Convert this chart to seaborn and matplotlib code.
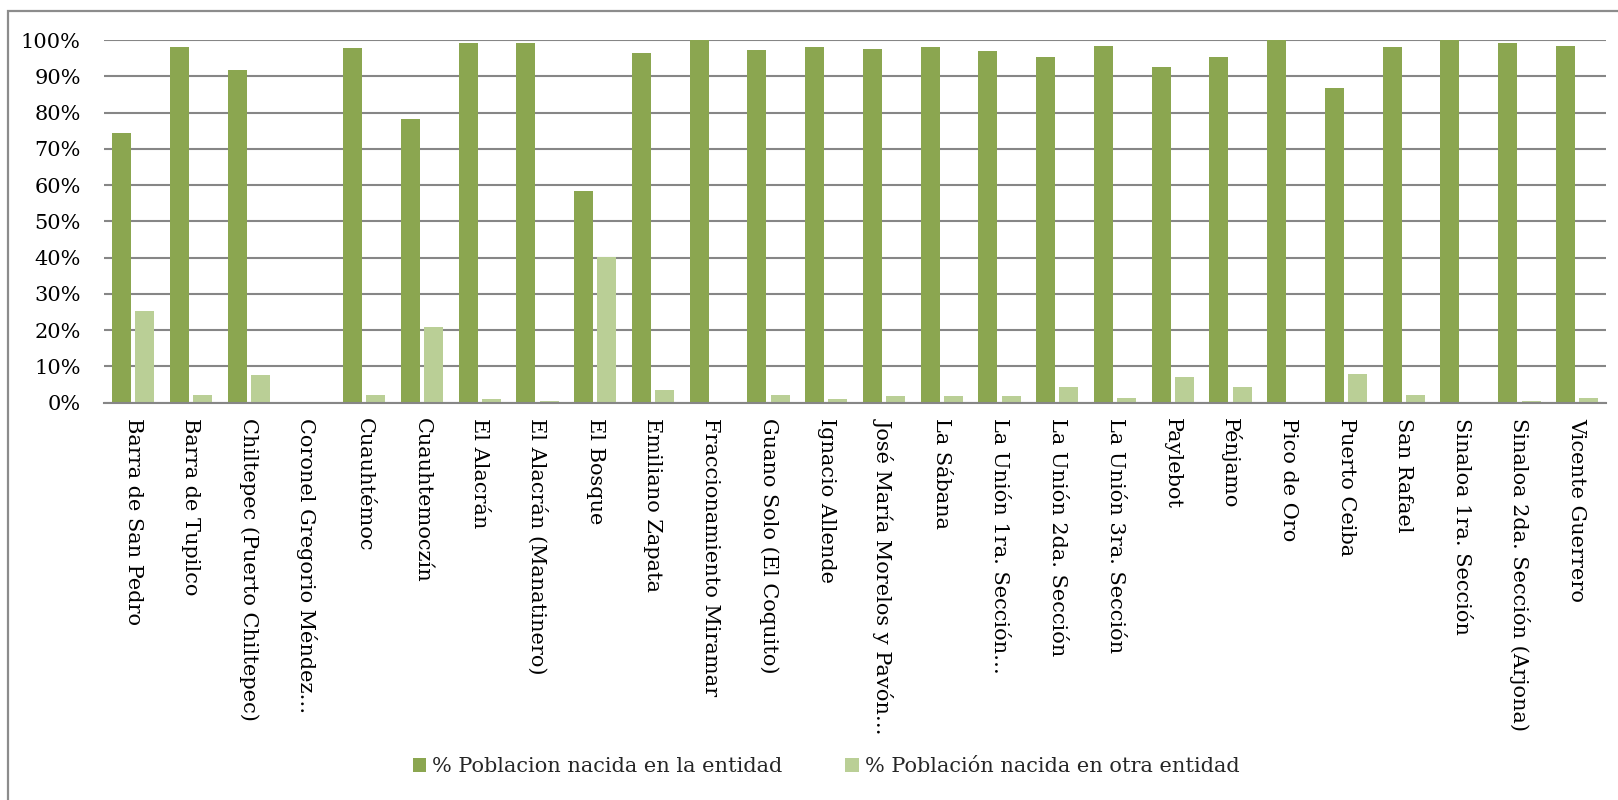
import matplotlib
matplotlib.use("Agg")
import matplotlib.pyplot as plt
import seaborn as sns
import pandas as pd
from matplotlib.patches import Rectangle
from matplotlib.ticker import FuncFormatter

categories = [
    "Barra de San Pedro", "Barra de Tupilco", "Chiltepec (Puerto Chiltepec)",
    "Coronel Gregorio Méndez…", "Cuauhtémoc", "Cuauhtemoczín", "El Alacrán",
    "El Alacrán (Manatinero)", "El Bosque", "Emiliano Zapata",
    "Fraccionamiento Miramar", "Guano Solo (El Coquito)", "Ignacio Allende",
    "José María Morelos y Pavón…", "La Sábana", "La Unión 1ra. Sección…",
    "La Unión 2da. Sección", "La Unión 3ra. Sección", "Paylebot", "Pénjamo",
    "Pico de Oro", "Puerto Ceiba", "San Rafael", "Sinaloa 1ra. Sección",
    "Sinaloa 2da. Sección (Arjona)", "Vicente Guerrero",
]
nacida_entidad = [74.4, 98.0, 91.6, 0.0, 97.7, 78.2, 99.1, 99.3, 58.4, 96.5,
                  100.0, 97.2, 98.1, 97.5, 98.0, 97.1, 95.4, 98.3, 92.6, 95.4,
                  100.0, 86.7, 98.0, 100.0, 99.1, 98.3]
nacida_otra = [25.3, 2.0, 7.7, 0.0, 2.0, 20.9, 1.0, 0.5, 40.2, 3.5,
               0.0, 2.1, 1.0, 1.8, 1.8, 1.8, 4.4, 1.2, 7.1, 4.2,
               0.0, 8.0, 2.1, 0.0, 0.5, 1.3]
series_names = ["% Poblacion nacida en la entidad", "% Población nacida en otra entidad"]
colors = ["#8BA650", "#BACF96"]

df = pd.DataFrame({
    "cat": categories * 2,
    "val": nacida_entidad + nacida_otra,
    "serie": [series_names[0]] * len(categories) + [series_names[1]] * len(categories),
})

sns.set_theme(style="white")
plt.rcParams["font.family"] = ["DejaVu Serif"]

W, H = 1618, 800
fig = plt.figure(figsize=(W / 100, H / 100), dpi=100)
x0, x1, ytop, ybot = 104.3, 1606.0, 40.0, 402.7
ax = fig.add_axes([x0 / W, 1 - ybot / H, (x1 - x0) / W, (ybot - ytop) / H])

sns.barplot(data=df, x="cat", y="val", hue="serie", palette=colors, ax=ax,
            width=0.807, gap=0.185, edgecolor="none", linewidth=0,
            order=categories, hue_order=series_names, zorder=3, saturation=1)

ax.set_ylim(0, 100)
ax.set_xlim(-0.5, len(categories) - 0.5)
ax.set_yticks(range(0, 101, 10))
ax.yaxis.set_major_formatter(FuncFormatter(lambda v, p: f"{int(v)}%"))
ax.grid(axis="y", color="#868686", linewidth=1.5, zorder=0)
ax.set_axisbelow(True)
for s in ["left", "right", "top"]:
    ax.spines[s].set_visible(False)
ax.spines["bottom"].set_color("#868686")
ax.spines["bottom"].set_linewidth(1.5)
ax.spines["bottom"].set_zorder(4)
ax.set_xlabel("")
ax.set_ylabel("")
ax.tick_params(axis="y", length=0, pad=17, labelsize=15, labelcolor="black")
ax.tick_params(axis="x", length=0, pad=11, labelsize=15, labelcolor="black")
for lab in ax.get_xticklabels():
    lab.set_rotation(270)
    lab.set_va("top")
    lab.set_ha("center")

leg = ax.get_legend()
if leg is not None:
    leg.remove()
handles = [Rectangle((0, 0), 1, 1, facecolor=c, edgecolor="none") for c in colors]
fig.legend(handles, series_names, loc="center", bbox_to_anchor=(826 / W, 1 - 767 / H),
           ncol=2, frameon=False, fontsize=15, handlelength=0.65, handleheight=0.65,
           handletextpad=0.3, columnspacing=3.0, borderaxespad=0, borderpad=0)

border = Rectangle((7.6 / W, -0.1), 1.2, 1 - 10.7 / H + 0.1, transform=fig.transFigure,
                   fill=False, edgecolor="#8C8C8C", linewidth=1.6, clip_on=False)
fig.patches.append(border)

fig.savefig("out.png", dpi=100, facecolor="white")
